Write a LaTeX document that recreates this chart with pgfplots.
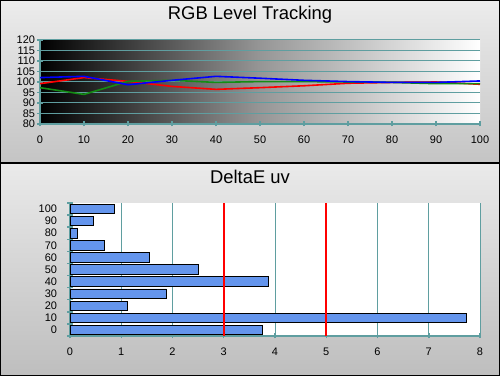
\documentclass[border=0pt]{standalone}
\usepackage{pgfplots}
\pgfplotsset{compat=1.18}
\usepackage{fontspec}
\setmainfont{Liberation Sans}
\definecolor{tealc}{RGB}{95,158,160}
\definecolor{barblue}{RGB}{100,149,237}
\definecolor{lgreen}{RGB}{20,140,20}
\definecolor{refred}{RGB}{255,0,0}
\begin{document}
\begin{tikzpicture}
\useasboundingbox (0,0) rectangle (500bp,376bp);
\shade[top color={rgb,255:red,236;green,236;blue,236}, bottom color={rgb,255:red,196;green,196;blue,196}] (0,213bp) rectangle (500bp,376bp);
\shade[top color={rgb,255:red,234;green,234;blue,234}, bottom color={rgb,255:red,190;green,190;blue,190}] (0,0) rectangle (500bp,213bp);
\node[font=\fontsize{18.5}{20}\selectfont] at (250bp,361bp) {RGB Level Tracking};
\node[font=\fontsize{18.5}{20}\selectfont] at (250bp,199bp) {DeltaE uv};
\begin{axis}[
  at={(40bp,252bp)}, anchor=south west, scale only axis,
  width=440bp, height=84bp,
  xmin=0, xmax=100, ymin=80, ymax=120,
  xtick={0,10,...,100}, ytick={80,85,...,120},
  ymajorgrids, grid style={tealc, line width=1pt},
  axis lines*=left,
  axis line style={tealc, line width=1.5pt},
  tick style={tealc, line width=1.5pt}, major tick length=5bp, tick align=center,
  ticklabel style={font=\fontsize{11}{11}\selectfont},
  /pgf/number format/assume math mode=true,
  xticklabel style={yshift=-6bp},
  yticklabel style={xshift=1bp},
  axis background/.style={left color=black, right color=white, middle color={rgb,255:red,150;green,150;blue,150}},
]
\addplot[red, line width=1.6pt] coordinates {(0,99.2)(10,102.1)(20,100.3)(30,97.9)(40,96.5)(50,97.3)(60,98.2)(70,99.4)(80,99.8)(90,100)(100,98.9)};
\addplot[lgreen, line width=1.6pt] coordinates {(0,97.3)(10,94.1)(20,100.3)(30,100.8)(40,99.8)(50,100.2)(60,100.2)(70,100)(80,99.8)(90,99.2)(100,99.2)};
\addplot[blue, line width=1.6pt] coordinates {(0,102.1)(10,102.7)(20,98.7)(30,100.8)(40,102.7)(50,101.8)(60,100.8)(70,100.2)(80,99.8)(90,99.8)(100,100.5)};
\end{axis}
\begin{axis}[
  at={(70bp,40bp)}, anchor=south west, scale only axis,
  width=410bp, height=133bp,
  xmin=0, xmax=8, ymin=-5, ymax=105,
  xtick={0,...,8}, ytick={0,10,...,100},
  minor ytick={-5,5,...,105},
  extra x ticks={1,2,4,6,7,8}, extra x tick labels={},
  extra x tick style={grid=major, major tick length=0pt},
  grid style={tealc, line width=0.9pt},
  axis lines*=left,
  axis line style={tealc, line width=1.5pt},
  tick style={tealc, line width=1.5pt}, major tick length=5bp, tick align=center,
  major y tick style={draw=none}, minor tick length=5bp,
  ticklabel style={font=\fontsize{11}{11}\selectfont},
  /pgf/number format/assume math mode=true,
  xticklabel style={yshift=-6bp},
  yticklabel style={xshift=-7bp},
  axis background/.style={fill=white},
]
\addplot[xbar, bar width=9.5bp, fill=barblue, draw=black, line width=0.8pt] coordinates {(3.75,0)(7.74,10)(1.12,20)(1.88,30)(3.87,40)(2.50,50)(1.55,60)(0.67,70)(0.143,80)(0.455,90)(0.865,100)};
\addplot[draw=refred, line width=1.7pt, mark=none] coordinates {(3,-5)(3,105)};
\addplot[draw=refred, line width=1.7pt, mark=none] coordinates {(5,-5)(5,105)};
\end{axis}
\draw[black, line width=2pt] (0,0) rectangle (500bp,376bp);
\draw[black, line width=2pt] (0,213bp) -- (500bp,213bp);
\end{tikzpicture}
\end{document}
